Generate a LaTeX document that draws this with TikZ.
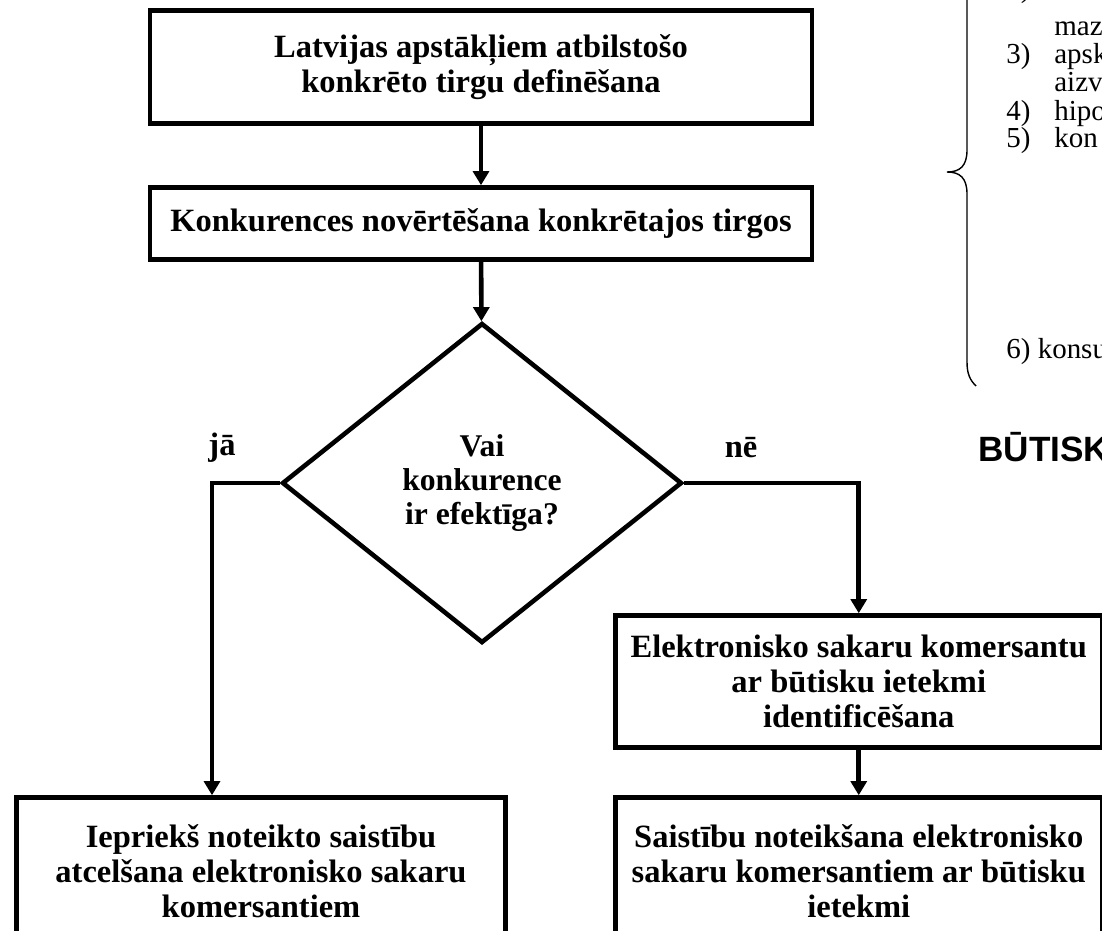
\documentclass[tikz,border=0pt]{standalone}
\usepackage{fontspec}
\setmainfont{Liberation Serif}
\newfontfamily\headfont{Liberation Sans}
\usetikzlibrary{arrows.meta}
\usetikzlibrary{shapes.geometric}

\tikzset{
  stepbox/.style={draw, line width=2.6pt, align=center, inner sep=0pt, font=\fontsize{18.5}{20}\selectfont\bfseries},
  choice/.style={draw, diamond, line width=2.6pt, align=center, inner sep=0pt, aspect=1.25, font=\fontsize{18}{19.3}\selectfont\bfseries},
  flow/.style={line width=2.6pt},
  listitem/.style={anchor=base west, inner sep=0pt, font=\fontsize{16.5}{16}\selectfont}
}

\begin{document}
\begin{tikzpicture}[x=0.02cm, y=-0.02cm, >={Triangle[width=9pt,length=8pt]}]
        % Page frame
        \useasboundingbox (0,0) rectangle (1102,930);
        \clip (0,0) rectangle (1102,930);

        % Main steps
        \node[stepbox, minimum width=13.24cm, minimum height=2.26cm] (define) at (481,67) {Latvijas apstākļiem atbilstošo\\konkrēto tirgu definēšana}; % Market definition
        \node[stepbox, minimum width=13.24cm, minimum height=1.44cm] (assess) at (481,223.5) {Konkurences novērtēšana konkrētajos tirgos}; % Assessment
        \node[choice, minimum width=8cm, minimum height=6.4cm] (effective) at (482,483) {Vai\\konkurence\\ir efektīga?}; % Decision

        % Outcome boxes
        \node[stepbox, minimum width=9.78cm, minimum height=2.94cm] (lift) at (261,871) {Iepriekš noteikto saistību\\atcelšana elektronisko sakaru\\komersantiem}; % Yes branch
        \node[stepbox, minimum width=9.73cm, minimum height=2.64cm] (identify) at (858.75,681.5) {Elektronisko sakaru komersantu\\ar būtisku ietekmi\\identificēšana}; % No branch
        \node[stepbox, minimum width=9.73cm, minimum height=2.94cm] (impose) at (858.75,871) {Saistību noteikšana elektronisko\\sakaru komersantiem ar būtisku\\ietekmi};

        % Connectors
        \coordinate (yesturn) at (212,483);
        \draw[flow,->] (define) -- (assess);
        \draw[flow,->] (assess) -- (effective);
        \draw[flow,->] (effective.west) -- (yesturn) -- (yesturn |- lift.north);
        \draw[flow,->] (effective.east) -| (identify.north);
        \draw[flow,->] (identify) -- (impose);

        % Branch labels
        \node[font=\fontsize{18.5}{20}\selectfont\bfseries] (yes) at (222,448) {jā};
        \node[font=\fontsize{18.5}{20}\selectfont\bfseries] (no) at (741,448) {nē};

        % Brace and list (cut off at the page edge)
        \draw[line width=0.8pt] (967,-10) -- (967,150) .. controls (967,166) and (960,172) .. (947,172) .. controls (960,172) and (967,178) .. (967,194) -- (967,362) .. controls (967,374) and (970,380) .. (976,386);
        \node[listitem] (n2) at (1006,-3) {2)};
        \node[listitem] (t2) at (1054,35) {maz};
        \node[listitem] (n3) at (1006,63) {3)};
        \node[listitem] (t3) at (1054,63) {apsk};
        \node[listitem] (t3b) at (1054,91) {aizv};
        \node[listitem] (n4) at (1006,120) {4)};
        \node[listitem] (t4) at (1054,120) {hipo};
        \node[listitem] (n5) at (1006,147) {5)};
        \node[listitem] (t5) at (1054,147) {kon};
        \node[listitem] (n6) at (1006,358) {6) konsu};

        % Heading
        \node[anchor=west, inner sep=0pt, font=\headfont\fontsize{20}{24}\selectfont\bfseries] (heading) at (978,447) {BŪTISKA};
    \end{tikzpicture}
\end{document}
